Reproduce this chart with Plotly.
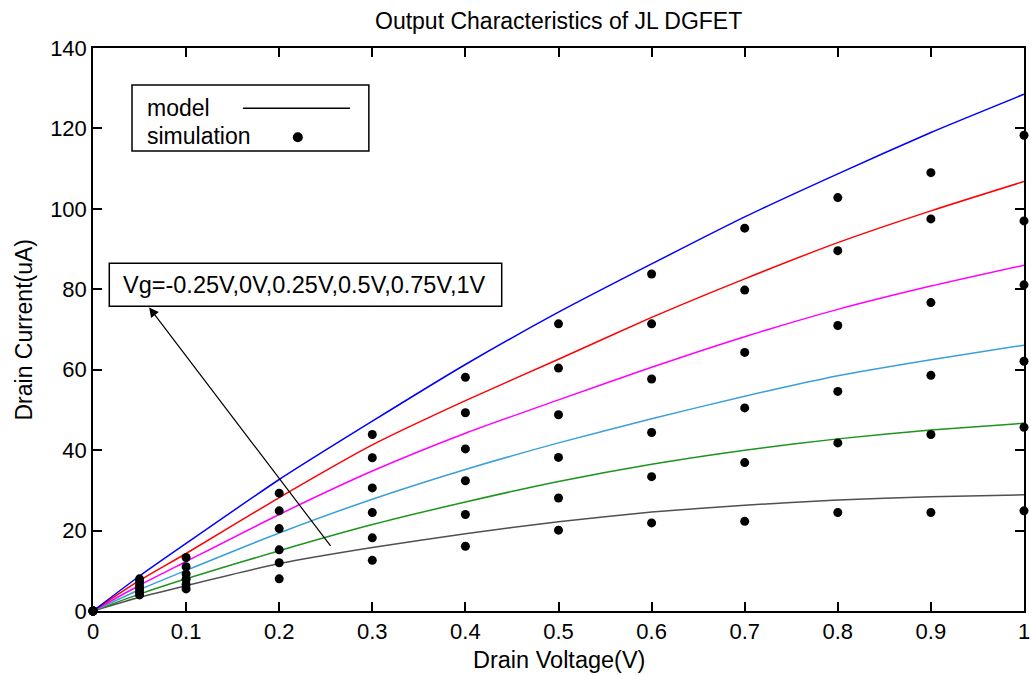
import plotly.graph_objects as go

# ---------------- data ----------------
x_model = [0, 0.05, 0.1, 0.2, 0.3, 0.4, 0.5, 0.6, 0.7, 0.8, 0.9, 1.0]
model_vg_m025 = [0, 3.4, 6.3, 11.8, 15.8, 19.2, 22.2, 24.6, 26.3, 27.6, 28.4, 28.9]
model_vg_0 = [0, 4.2, 8.0, 15.0, 21.5, 27.1, 32.2, 36.5, 40.0, 42.8, 45.0, 46.7]
model_vg_025 = [0, 5.3, 10.1, 19.4, 27.8, 35.2, 41.8, 47.8, 53.4, 58.5, 62.5, 66.1]
model_vg_05 = [0, 6.4, 12.3, 24.0, 34.8, 44.2, 52.5, 60.6, 68.2, 75.0, 80.8, 86.0]
model_vg_075 = [0, 7.6, 14.3, 28.2, 41.3, 52.3, 62.6, 73.0, 82.6, 91.6, 99.5, 106.8]
model_vg_1 = [0, 8.7, 16.8, 32.7, 47.2, 61.3, 74.3, 86.3, 98.0, 108.7, 119.0, 128.5]

x_sim = [0, 0.05, 0.1, 0.2, 0.3, 0.4, 0.5, 0.6, 0.7, 0.8, 0.9, 1.0]
sim_vg_m025 = [0, 4.0, 5.5, 8.0, 12.6, 16.1, 20.1, 21.9, 22.3, 24.5, 24.5, 24.9]
sim_vg_0 = [0, 4.7, 6.6, 12.0, 18.2, 24.0, 28.1, 33.4, 36.9, 41.8, 43.9, 45.7]
sim_vg_025 = [0, 5.5, 7.9, 15.2, 24.5, 32.4, 38.2, 44.4, 50.5, 54.6, 58.6, 62.1]
sim_vg_05 = [0, 6.3, 9.2, 20.5, 30.6, 40.3, 48.8, 57.7, 64.3, 71.0, 76.7, 81.1]
sim_vg_075 = [0, 7.2, 11.0, 24.9, 38.1, 49.3, 60.4, 71.4, 79.8, 89.6, 97.5, 97.0]
sim_vg_1 = [0, 8.0, 13.3, 29.3, 43.9, 58.1, 71.4, 83.8, 95.2, 102.8, 109.0, 118.3]

x_tickvals = [0, 0.1, 0.2, 0.3, 0.4, 0.5, 0.6, 0.7, 0.8, 0.9, 1.0]
x_ticktext = ["0", "0.1", "0.2", "0.3", "0.4", "0.5", "0.6", "0.7", "0.8", "0.9", "1"]
y_tickvals = [0, 20, 40, 60, 80, 100, 120, 140]
y_ticktext = ["0", "20", "40", "60", "80", "100", "120", "140"]

model_series = [model_vg_m025, model_vg_0, model_vg_025, model_vg_05, model_vg_075, model_vg_1]
sim_series = [sim_vg_m025, sim_vg_0, sim_vg_025, sim_vg_05, sim_vg_075, sim_vg_1]
model_colors = ["#505050", "#1E941E", "#3A9FDA", "#FF00FF", "#FF0000", "#0000FF"]

title_text = "Output Characteristics of JL DGFET"
x_title = "Drain Voltage(V)"
y_title = "Drain Current(uA)"
vg_text = "Vg=-0.25V,0V,0.25V,0.5V,0.75V,1V"

FONT = "Liberation Sans, Arial, sans-serif"

fig = go.Figure()
for ys, c in zip(model_series, model_colors):
    fig.add_trace(go.Scatter(x=x_model, y=ys, mode="lines",
                             line=dict(color=c, width=1.5, shape="spline", smoothing=0.6),
                             showlegend=False, hoverinfo="skip"))
for ys in sim_series:
    fig.add_trace(go.Scatter(x=x_sim, y=ys, mode="markers",
                             marker=dict(color="black", size=9),
                             cliponaxis=False, showlegend=False))

shapes = [
    # legend box
    dict(type="rect", xref="x", yref="y", x0=0.0419, x1=0.2963, y0=114.4, y1=130.8,
         line=dict(color="black", width=1.5), fillcolor="white", layer="above"),
    dict(type="line", xref="x", yref="y", x0=0.161, x1=0.276, y0=125.0, y1=125.0,
         line=dict(color="black", width=1.5), layer="above"),
    dict(type="circle", xref="x", yref="y", xsizemode="pixel", ysizemode="pixel",
         xanchor=0.220, yanchor=117.8, x0=-5, x1=5, y0=-5, y1=5,
         fillcolor="black", line=dict(color="black", width=0), layer="above"),
    # Vg box
    dict(type="rect", xref="x", yref="y", x0=0.0175, x1=0.4390, y0=75.8, y1=86.5,
         line=dict(color="black", width=1.5), fillcolor="white", layer="above"),
]

annotations = [
    dict(text="model", x=0.0555, y=125.2, xref="x", yref="y", xanchor="left", yanchor="middle",
         showarrow=False, font=dict(family=FONT, size=23, color="black")),
    dict(text="simulation", x=0.0555, y=118.1, xref="x", yref="y", xanchor="left", yanchor="middle",
         showarrow=False, font=dict(family=FONT, size=23, color="black")),
    dict(text=vg_text, x=0.0300, y=81.0, xref="x", yref="y", xanchor="left", yanchor="middle",
         showarrow=False, font=dict(family=FONT, size=23.5, color="black")),
    # arrow
    dict(text="", x=0.0603, y=75.5, ax=0.2564, ay=15.8, xref="x", yref="y",
         axref="x", ayref="y", showarrow=True, arrowhead=2, arrowsize=1.6,
         arrowwidth=1.2, arrowcolor="black"),
    # title
    dict(text=title_text, x=0.5, y=(611 - 20.7) / 563, xref="paper", yref="paper",
         xanchor="center", yanchor="middle", showarrow=False,
         font=dict(family=FONT, size=23, color="black")),
    dict(text=x_title, x=0.5, y=-(660 - 611) / 563, xref="paper", yref="paper",
         xanchor="center", yanchor="middle", showarrow=False,
         font=dict(family=FONT, size=23.5, color="black")),
    dict(text=y_title, x=-(93 - 23) / 931, y=0.5, xref="paper", yref="paper",
         xanchor="center", yanchor="middle", showarrow=False, textangle=-90,
         font=dict(family=FONT, size=23, color="black")),
]

axis_common = dict(showline=True, mirror="ticks", linecolor="black", linewidth=1.5,
                   ticks="inside", ticklen=9, tickwidth=1.5, tickcolor="black",
                   showgrid=False, zeroline=False, automargin=False,
                   ticklabeloverflow="allow",
                   tickfont=dict(family=FONT, size=22, color="black"))

fig.update_layout(
    width=1031, height=675, autosize=False,
    margin=dict(l=93, r=7, t=48, b=64),
    paper_bgcolor="white", plot_bgcolor="white",
    xaxis=dict(range=[0, 1], tickmode="array", tickvals=x_tickvals, ticktext=x_ticktext,
               **axis_common),
    yaxis=dict(range=[0, 140], tickmode="array", tickvals=y_tickvals, ticktext=y_ticktext,
               **axis_common),
    shapes=shapes, annotations=annotations, showlegend=False,
)

fig.write_html("out.html")
